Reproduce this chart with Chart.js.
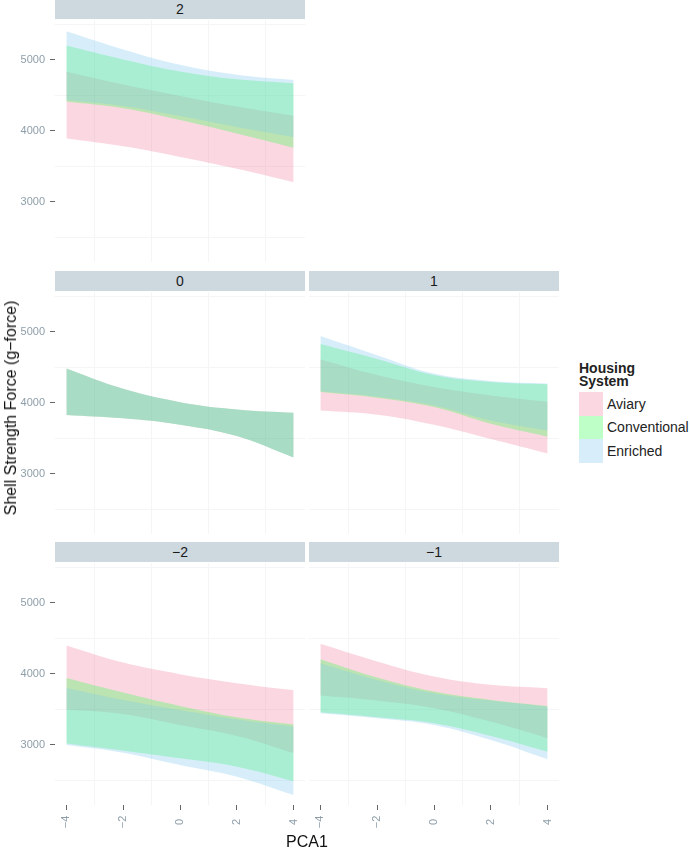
<!DOCTYPE html>
<html>
<head>
<meta charset="utf-8">
<script src="https://cdn.jsdelivr.net/npm/chart.js@4.4.1/dist/chart.umd.min.js"></script>
<style>
  body { margin: 0; background: #fff; font-family: "Liberation Sans", Arial, sans-serif; }
  #wrap { position: relative; width: 690px; height: 853px; overflow: hidden; }
  canvas { position: absolute; }
  .strip { position: absolute; background: #cdd8df; color: #1a1a1a; font-size: 14px;
           text-align: center; line-height: 20px; }
  .axis-title { position: absolute; color: #111; font-size: 16px; white-space: nowrap; }
  .legend { position: absolute; left: 579px; top: 362px; color: #222; }
  .legend .ttl { font-weight: bold; font-size: 14px; line-height: 12.6px; margin-bottom: 5px; }
  .legend .row { display: flex; align-items: center; height: 23.5px; font-size: 14px; }
  .legend .key { width: 24px; height: 23.5px; margin-right: 4px; }
</style>
</head>
<body>
<div id="wrap"></div>
<script>
// ── Shell strength ribbons by PCA1, faceted ──
const PCA1 = [-4, -2, 0, 2, 4];
const X_TICKS = [-4, -2, 0, 2, 4];
const X_MINOR = [-3, -1, 1, 3];
const Y_TICKS = [3000, 4000, 5000];
const Y_MINOR = [2500, 3500, 4500, 5500];
const SYSTEMS = ['Aviary', 'Conventional', 'Enriched'];

// facet "2"
const p2_aviary_lo = [3890, 3780, 3630, 3465, 3275];
const p2_aviary_hi = [4830, 4650, 4490, 4340, 4210];
const p2_conv_lo = [4410, 4315, 4150, 3960, 3760];
const p2_conv_hi = [5200, 5005, 4835, 4725, 4670];
const p2_enr_lo = [4433, 4348, 4206, 4054, 3912];
const p2_enr_hi = [5400, 5145, 4930, 4790, 4716];

// facet "0" (the three bands sit on top of each other)
const p0_lo = [3828, 3780, 3690, 3530, 3228];
const p0_hi = [4481, 4195, 4008, 3905, 3858];

// facet "1"
const p1_aviary_lo = [3891, 3832, 3690, 3490, 3286];
const p1_aviary_hi = [4610, 4390, 4221, 4103, 4015];
const p1_conv_lo = [4150, 4070, 3938, 3702, 3520];
const p1_conv_hi = [4826, 4615, 4390, 4292, 4259];
const p1_enr_lo = [4160, 4085, 3962, 3749, 3608];
const p1_enr_hi = [4939, 4670, 4410, 4306, 4269];

// facet "-2"
const pm2_aviary_lo = [3495, 3433, 3278, 3123, 2882];
const pm2_aviary_hi = [4397, 4157, 3994, 3867, 3767];
const pm2_conv_lo = [3015, 2915, 2808, 2690, 2485];
const pm2_conv_hi = [3940, 3734, 3546, 3387, 3285];
const pm2_enr_lo = [2996, 2887, 2713, 2548, 2290];
const pm2_enr_hi = [3800, 3631, 3490, 3358, 3254];

// facet "-1"
const pm1_aviary_lo = [3692, 3621, 3514, 3325, 3090];
const pm1_aviary_hi = [4421, 4172, 3960, 3843, 3796];
const pm1_conv_lo = [3457, 3387, 3302, 3123, 2901];
const pm1_conv_hi = [4205, 3946, 3748, 3631, 3546];
const pm1_enr_lo = [3443, 3373, 3278, 3066, 2794];
const pm1_enr_hi = [4149, 3913, 3725, 3621, 3536];

const FILLS = ['rgba(242,125,155,0.3)', 'rgba(35,255,68,0.3)', 'rgba(122,198,238,0.3)'];
const TICK_TEXT = '#8e9ea9';
const TICK_MARK = '#666';
const GRID = '#f3f5f6';
const CLEAR = 'rgba(0,0,0,0)';

Chart.defaults.font.family = '"Liberation Sans", Arial, sans-serif';

const fmt = v => (v < 0 ? '\u2212' + Math.abs(v) : String(v));
const wrap = document.getElementById('wrap');

// rotated, centred x labels (ggplot style)
const rotLabels = {
  id: 'rotLabels',
  afterDraw(chart, args, opts) {
    if (!opts.show) return;
    const { ctx, chartArea } = chart;
    const x = chart.scales.x;
    ctx.save();
    ctx.fillStyle = TICK_TEXT;
    ctx.font = '11px "Liberation Sans", Arial, sans-serif';
    ctx.textAlign = 'center';
    ctx.textBaseline = 'middle';
    X_TICKS.forEach(v => {
      ctx.save();
      ctx.translate(x.getPixelForValue(v), chartArea.bottom + 17);
      ctx.rotate(-Math.PI / 2);
      ctx.fillText(fmt(v), 0, 0);
      ctx.restore();
    });
    ctx.restore();
  }
};

function band(lo, hi, i) {
  const pts = arr => PCA1.map((x, k) => ({ x, y: arr[k] }));
  const base = { borderColor: CLEAR, borderWidth: 0, pointRadius: 0, tension: 0.4, order: 3 - i };
  return [
    { ...base, label: SYSTEMS[i], data: pts(hi), fill: '+1', backgroundColor: FILLS[i] },
    { ...base, label: SYSTEMS[i] + ' lo', data: pts(lo), fill: false }
  ];
}

function panel(label, left, top, showY, showX, bands) {
  const w = showY ? 305 : 250;
  const plotLeft = showY ? left + 55 : left;
  const strip = document.createElement('div');
  strip.className = 'strip';
  Object.assign(strip.style, { left: plotLeft + 'px', top: (top - 21) + 'px', width: '250px', height: '20px' });
  strip.textContent = label;
  wrap.appendChild(strip);

  const cv = document.createElement('canvas');
  cv.width = w;
  cv.height = 242 + (showX ? 30 : 0);
  cv.style.left = left + 'px';
  cv.style.top = top + 'px';
  wrap.appendChild(cv);

  // enriched first so it is painted last (on top)
  const datasets = [];
  [2, 1, 0].forEach(i => datasets.push(...band(bands[i][0], bands[i][1], i)));

  new Chart(cv.getContext('2d'), {
    type: 'line',
    data: { datasets },
    plugins: [rotLabels],
    options: {
      responsive: false,
      animation: false,
      devicePixelRatio: 1,
      layout: { padding: 0 },
      plugins: { legend: { display: false }, tooltip: { enabled: false }, rotLabels: { show: showX } },
      scales: {
        x: {
          type: 'linear', min: -4.4, max: 4.4,
          afterBuildTicks: ax => { ax.ticks = [...X_TICKS, ...X_MINOR].sort((a, b) => a - b).map(v => ({ value: v })); },
          ticks: { display: false },
          grid: {
            color: c => X_MINOR.includes(c.tick.value) ? GRID : CLEAR,
            drawTicks: showX, tickLength: 5,
            tickColor: c => X_TICKS.includes(c.tick.value) ? TICK_MARK : CLEAR
          },
          border: { display: false },
          afterFit: ax => { ax.height = showX ? 30 : 0; ax.paddingLeft = 0; ax.paddingRight = 0; }
        },
        y: {
          type: 'linear', min: 2150, max: 5560,
          afterBuildTicks: ax => { ax.ticks = [...Y_TICKS, ...Y_MINOR].sort((a, b) => a - b).map(v => ({ value: v })); },
          ticks: {
            display: showY, padding: 5, color: TICK_TEXT, font: { size: 11 },
            callback: v => Y_TICKS.includes(v) ? String(v) : ''
          },
          grid: {
            color: c => Y_MINOR.includes(c.tick.value) ? GRID : CLEAR,
            drawTicks: showY, tickLength: 5,
            tickColor: c => Y_TICKS.includes(c.tick.value) ? TICK_MARK : CLEAR
          },
          border: { display: false },
          afterFit: ax => { ax.width = showY ? 55 : 0; ax.paddingTop = 0; ax.paddingBottom = 0; }
        }
      }
    }
  });
}

panel('2', 0, 20, true, false, [[p2_aviary_lo, p2_aviary_hi], [p2_conv_lo, p2_conv_hi], [p2_enr_lo, p2_enr_hi]]);
panel('0', 0, 292, true, false, [[p0_lo, p0_hi], [p0_lo, p0_hi], [p0_lo, p0_hi]]);
panel('1', 309, 292, false, false, [[p1_aviary_lo, p1_aviary_hi], [p1_conv_lo, p1_conv_hi], [p1_enr_lo, p1_enr_hi]]);
panel('\u22122', 0, 563, true, true, [[pm2_aviary_lo, pm2_aviary_hi], [pm2_conv_lo, pm2_conv_hi], [pm2_enr_lo, pm2_enr_hi]]);
panel('\u22121', 309, 563, false, true, [[pm1_aviary_lo, pm1_aviary_hi], [pm1_conv_lo, pm1_conv_hi], [pm1_enr_lo, pm1_enr_hi]]);

// axis titles
const xt = document.createElement('div');
xt.className = 'axis-title';
xt.textContent = 'PCA1';
Object.assign(xt.style, { left: '307px', top: '833px', transform: 'translateX(-50%)' });
wrap.appendChild(xt);

const yt = document.createElement('div');
yt.className = 'axis-title';
yt.textContent = 'Shell Strength Force (g\u2212force)';
Object.assign(yt.style, { left: '11px', top: '408px', transform: 'translate(-50%, -50%) rotate(-90deg)' });
wrap.appendChild(yt);

// legend
const lg = document.createElement('div');
lg.className = 'legend';
lg.innerHTML = '<div class="ttl">Housing<br>System</div>' +
  SYSTEMS.map((s, i) => `<div class="row"><div class="key" style="background:${FILLS[i]}"></div>${s}</div>`).join('');
wrap.appendChild(lg);
</script>
</body>
</html>
